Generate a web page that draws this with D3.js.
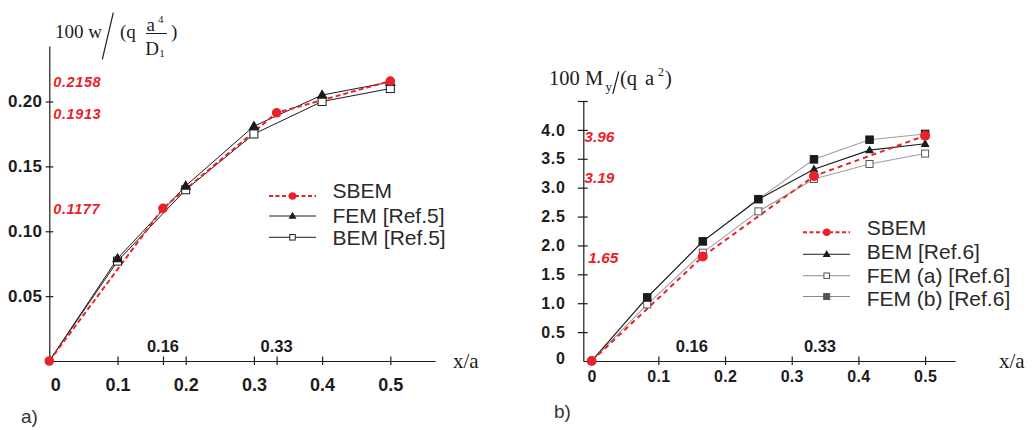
<!DOCTYPE html>
<html>
<head>
<meta charset="utf-8">
<script src="https://cdn.jsdelivr.net/npm/d3@7"></script>
<style>
  body { margin: 0; background: #fff; }
  svg { display: block; }
  .sans { font-family: "Liberation Sans", Arial, sans-serif; }
  .serif { font-family: "Liberation Serif", "Times New Roman", serif; }
</style>
</head>
<body>
<svg id="canvas" width="1032" height="430"></svg>
<script>
// ---- data, panel a) deflection ----
const xSbemA = [0, 1 / 6, 1 / 3, 0.5];
const sbemA = [0, 0.1177, 0.1913, 0.2158];
const sbemLabelsA = ["", "0.1177", "0.1913", "0.2158"];
const xRefA = [0, 0.1, 0.2, 0.3, 0.4, 0.5];
const femA = [0, 0.079, 0.135, 0.181, 0.205, 0.215];
const bemA = [0, 0.077, 0.132, 0.175, 0.200, 0.210];
const yTicksA = [0.05, 0.10, 0.15, 0.20];
const xTicksA = [0, 0.1, 0.2, 0.3, 0.4, 0.5];
const legendA = ["SBEM", "FEM [Ref.5]", "BEM [Ref.5]"];

// ---- data, panel b) moment ----
const xSbemB = [0, 1 / 6, 1 / 3, 0.5];
const sbemB = [0, 1.81, 3.20, 3.90];
const sbemLabelsB = ["", "1.65", "3.19", "3.96"];
const xRefB = [0, 1 / 12, 1 / 6, 1 / 4, 1 / 3, 5 / 12, 1 / 2];
const bemB = [0, 1.10, 2.07, 2.80, 3.32, 3.65, 3.76];
const femaB = [0, 0.98, 1.875, 2.59, 3.15, 3.41, 3.59];
const fembB = [0, 1.10, 2.07, 2.80, 3.49, 3.83, 3.93];
const yTicksB = [0, 0.5, 1.0, 1.5, 2.0, 2.5, 3.0, 3.5, 4.0, 4.5];
const xTicksB = [0, 0.1, 0.2, 0.3, 0.4, 0.5];
const legendB = ["SBEM", "BEM [Ref.6]", "FEM (a) [Ref.6]", "FEM (b) [Ref.6]"];

const markLabels = ["0.16", "0.33"];
const markX = [1 / 6, 1 / 3];

const RED = "#e8222b";
const INK = "#1c1c1c";

const svg = d3.select("#canvas");

// scales
const xA = d3.scaleLinear().domain([0, 0.5655]).range([49.3, 435]);
const yA = d3.scaleLinear().domain([0, 0.2428]).range([361, 46]);
const xB = d3.scaleLinear().domain([-0.0125, 0.5448]).range([583.3, 955]);
const yB = d3.scaleLinear().domain([0, 4.5]).range([361, 101]);

function zip(xs, ys) { return xs.map((x, i) => [x, ys[i]]); }

function triangle(g, cx, cy, s, fill) {
  const h = s * 0.87;
  g.append("path")
    .attr("d", `M${cx},${cy - h * 0.6}L${cx + s / 2},${cy + h * 0.4}L${cx - s / 2},${cy + h * 0.4}Z`)
    .attr("fill", fill);
}
function square(g, cx, cy, s, fill, stroke) {
  g.append("rect")
    .attr("x", cx - s / 2).attr("y", cy - s / 2)
    .attr("width", s).attr("height", s)
    .attr("fill", fill).attr("stroke", stroke).attr("stroke-width", 1);
}

function styleAxis(g) {
  g.selectAll(".domain").attr("stroke", INK).attr("stroke-width", 1.2);
  g.selectAll(".tick line").attr("stroke", INK).attr("stroke-width", 1.2);
  g.selectAll("text").attr("class", "sans").attr("font-weight", "bold").attr("fill", INK);
}

// ================= panel a =================
const gA = svg.append("g");

const axYA = gA.append("g").attr("transform", `translate(${xA(0)},0)`)
  .call(d3.axisLeft(yA).tickValues(yTicksA).tickSize(3.6).tickSizeOuter(0)
    .tickPadding(3.5).tickFormat(d3.format(".2f")));
axYA.selectAll(".tick line").attr("x1", 4);
axYA.selectAll("text").attr("font-size", 17).attr("letter-spacing", "0.3px");
styleAxis(axYA);

const axXA = gA.append("g").attr("transform", `translate(0,${yA(0)})`)
  .call(d3.axisBottom(xA).tickValues(xTicksA.concat(markX)).tickSize(4).tickSizeOuter(0)
    .tickFormat(d => xTicksA.includes(d) ? (d === 0 ? "0" : d3.format(".1f")(d)) : ""));
axXA.selectAll(".tick line").attr("y1", -4.5);
axXA.selectAll("text").attr("y", 24).attr("dy", "0.35em").attr("font-size", 18);
axXA.selectAll(".tick").filter(d => d === 0).select("text").attr("x", 6);
styleAxis(axXA);

gA.selectAll(".mark").data(markLabels).join("text")
  .attr("class", "sans").attr("x", (d, i) => xA(markX[i])).attr("y", 346.5).attr("dy", "0.35em")
  .attr("text-anchor", "middle").attr("font-size", 16.5).attr("font-weight", "bold")
  .attr("fill", INK).text(d => d);

const lineA = d3.line().x(d => xA(d[0])).y(d => yA(d[1]));

gA.append("path").datum(zip(xRefA, bemA)).attr("d", lineA)
  .attr("fill", "none").attr("stroke", INK).attr("stroke-width", 1);
gA.append("path").datum(zip(xRefA, femA)).attr("d", lineA)
  .attr("fill", "none").attr("stroke", INK).attr("stroke-width", 1);
gA.append("path").datum(zip(xSbemA, sbemA)).attr("d", lineA)
  .attr("fill", "none").attr("stroke", RED).attr("stroke-width", 2).attr("stroke-dasharray", "5,3");

zip(xRefA, bemA).slice(1).forEach(d => square(gA, xA(d[0]), yA(d[1]), 8, "#fff", INK));
zip(xRefA, femA).slice(1).forEach(d => triangle(gA, xA(d[0]), yA(d[1]), 11, INK));
gA.selectAll(".sbemA").data(zip(xSbemA, sbemA)).join("circle")
  .attr("cx", d => xA(d[0])).attr("cy", d => yA(d[1])).attr("r", 4.8).attr("fill", RED);

// red value notes
gA.selectAll(".noteA").data(sbemLabelsA.filter(d => d)).join("text")
  .attr("class", "sans").attr("x", xA(0) + 4)
  .attr("y", d => yA(sbemA[sbemLabelsA.indexOf(d)]) + 1).attr("dy", "0.35em")
  .attr("font-size", 14.5).attr("font-weight", "bold").attr("font-style", "italic")
  .attr("letter-spacing", "0.6px").attr("fill", RED).text(d => d);

// title a
const tA = gA.append("g").attr("class", "serif").attr("fill", INK);
tA.append("text").attr("x", 55).attr("y", 38).attr("font-size", 19).text("100 w");
tA.append("line").attr("x1", 113.3).attr("y1", 12.7).attr("x2", 102.3).attr("y2", 59.3)
  .attr("stroke", INK).attr("stroke-width", 1.2);
tA.append("text").attr("x", 120).attr("y", 38).attr("font-size", 19).text("(q");
tA.append("text").attr("x", 146.5).attr("y", 30.5).attr("font-size", 19).text("a");
tA.append("text").attr("x", 158).attr("y", 22.5).attr("font-size", 11).text("4");
tA.append("line").attr("x1", 146).attr("y1", 33.5).attr("x2", 167).attr("y2", 33.5)
  .attr("stroke", INK).attr("stroke-width", 1);
tA.append("text").attr("x", 145.3).attr("y", 54.5).attr("font-size", 19).text("D");
tA.append("text").attr("x", 159.3).attr("y", 56.5).attr("font-size", 11).text("1");
tA.append("text").attr("x", 171).attr("y", 38).attr("font-size", 19).text(")");
gA.append("text").attr("class", "serif").attr("x", 453).attr("y", 368).attr("font-size", 21)
  .attr("fill", INK).text("x/a");
gA.append("text").attr("class", "sans").attr("x", 21).attr("y", 423).attr("font-size", 19)
  .attr("fill", "#333").text("a)");

// legend a
const legYA = [196, 216, 237.3];
const lgA = gA.append("g");
legendA.forEach((name, i) => {
  const y = legYA[i];
  const ln = lgA.append("line").attr("x1", 269).attr("x2", 316).attr("y1", y).attr("y2", y)
    .attr("stroke", i === 0 ? RED : INK).attr("stroke-width", i === 0 ? 2 : 1);
  if (i === 0) {
    ln.attr("stroke-dasharray", "4,2.5");
    lgA.append("circle").attr("cx", 292.5).attr("cy", y).attr("r", 3.8).attr("fill", RED);
  } else if (i === 1) {
    triangle(lgA, 292.5, y, 8, INK);
  } else {
    square(lgA, 292.5, y, 5.5, "#fff", INK);
  }
  lgA.append("text").attr("class", "sans").attr("x", 332.5).attr("y", y - (i === 0 ? 5 : 0))
    .attr("dy", "0.35em").attr("font-size", 21).attr("fill", "#2a2a2a").text(name);
});

// ================= panel b =================
const gB = svg.append("g");

const axYB = gB.append("g").attr("transform", `translate(${xB.range()[0]},0)`)
  .call(d3.axisLeft(yB).tickValues(yTicksB).tickSize(5.5).tickSizeOuter(0).tickPadding(12)
    .tickFormat(d => d === 4.5 ? "" : (d === 0 ? "0" : d3.format(".1f")(d))));
axYB.selectAll(".tick line").attr("x1", 4.4);
axYB.selectAll("text").attr("font-size", 16).attr("letter-spacing", "0.8px");
styleAxis(axYB);
axYB.selectAll(".tick").filter(d => d === 0).select("line").remove();
axYB.selectAll(".tick").filter(d => d === 0).select("text").attr("y", -3);

const axXB = gB.append("g").attr("transform", `translate(0,${yB(0)})`)
  .call(d3.axisBottom(xB).tickValues(xTicksB).tickSize(4).tickSizeOuter(0)
    .tickFormat(d => d === 0 ? "0" : d3.format(".1f")(d)));
axXB.selectAll(".tick line").attr("y1", -4.5);
axXB.selectAll(".tick").filter(d => d === 0).select("line").remove();
axXB.selectAll("text").attr("y", 15).attr("dy", "0.35em").attr("font-size", 16).attr("letter-spacing", "0.3px");
styleAxis(axXB);

gB.selectAll(".mark").data(markLabels).join("text")
  .attr("class", "sans").attr("x", (d, i) => xB(markX[i]) + (i === 0 ? -11 : 6)).attr("y", 346).attr("dy", "0.35em")
  .attr("text-anchor", "middle").attr("font-size", 16.5).attr("font-weight", "bold")
  .attr("fill", INK).text(d => d);

const lineB = d3.line().x(d => xB(d[0])).y(d => yB(d[1]));

gB.append("path").datum(zip(xRefB, femaB)).attr("d", lineB)
  .attr("fill", "none").attr("stroke", "#a0a0a0").attr("stroke-width", 1.1);
gB.append("path").datum(zip(xRefB, fembB)).attr("d", lineB)
  .attr("fill", "none").attr("stroke", "#a0a0a0").attr("stroke-width", 1.1);
gB.append("path").datum(zip(xRefB, bemB)).attr("d", lineB)
  .attr("fill", "none").attr("stroke", INK).attr("stroke-width", 1.1);
gB.append("path").datum(zip(xSbemB, sbemB)).attr("d", lineB)
  .attr("fill", "none").attr("stroke", RED).attr("stroke-width", 2).attr("stroke-dasharray", "5,4");

zip(xRefB, femaB).slice(1).forEach(d => square(gB, xB(d[0]), yB(d[1]), 7, "#fff", "#555"));
zip(xRefB, bemB).slice(1).forEach(d => triangle(gB, xB(d[0]), yB(d[1]), 9, INK));
zip(xRefB, fembB).slice(1).forEach(d => square(gB, xB(d[0]), yB(d[1]), 7.5, "#1a1a1a", "#1a1a1a"));
gB.selectAll(".sbemB").data(zip(xSbemB, sbemB)).join("circle")
  .attr("cx", d => xB(d[0])).attr("cy", d => yB(d[1])).attr("r", 5).attr("fill", RED);

gB.selectAll(".noteB").data(sbemLabelsB.filter(d => d)).join("text")
  .attr("class", "sans").attr("x", (d, i) => xB.range()[0] + (i === 0 ? 5 : 1))
  .attr("y", d => yB(sbemB[sbemLabelsB.indexOf(d)]) + 1).attr("dy", "0.35em")
  .attr("font-size", 15.5).attr("font-weight", "bold").attr("font-style", "italic")
  .attr("fill", RED).text(d => d);

// title b
const tB = gB.append("g").attr("class", "serif").attr("fill", INK);
tB.append("text").attr("x", 549).attr("y", 85).attr("font-size", 20.5).text("100 M");
tB.append("text").attr("x", 605.5).attr("y", 91).attr("font-size", 13).text("y");
tB.append("line").attr("x1", 618.7).attr("y1", 71.5).attr("x2", 612.8).attr("y2", 94)
  .attr("stroke", INK).attr("stroke-width", 1.2);
tB.append("text").attr("x", 620).attr("y", 85).attr("font-size", 20.5).text("(q");
tB.append("text").attr("x", 645).attr("y", 85).attr("font-size", 20.5).text("a");
tB.append("text").attr("x", 658).attr("y", 76).attr("font-size", 12).text("2");
tB.append("text").attr("x", 665).attr("y", 85).attr("font-size", 20.5).text(")");
gB.append("text").attr("class", "serif").attr("x", 999).attr("y", 368).attr("font-size", 21)
  .attr("fill", INK).text("x/a");
gB.append("text").attr("class", "sans").attr("x", 554).attr("y", 418).attr("font-size", 19)
  .attr("fill", "#333").text("b)");

// legend b
const legYB = [232.3, 254.3, 275.7, 296.5];
const lgB = gB.append("g");
legendB.forEach((name, i) => {
  const y = legYB[i];
  const ln = lgB.append("line").attr("x1", 803).attr("x2", 850).attr("y1", y).attr("y2", y)
    .attr("stroke", i === 0 ? RED : (i === 1 ? INK : "#888")).attr("stroke-width", i === 0 ? 2 : 1.1);
  if (i === 0) {
    ln.attr("stroke-dasharray", "4,2.5");
    lgB.append("circle").attr("cx", 826.7).attr("cy", y).attr("r", 3.8).attr("fill", RED);
  } else if (i === 1) {
    triangle(lgB, 826.7, y, 8, INK);
  } else if (i === 2) {
    square(lgB, 826.7, y, 5.5, "#fff", "#555");
  } else {
    square(lgB, 826.7, y, 6, "#555", "#555");
  }
  lgB.append("text").attr("class", "sans").attr("x", 866.7).attr("y", y - (i === 0 ? 5 : (i === 1 ? 2.5 : 0)) + (i === 3 ? 2 : 0))
    .attr("dy", "0.35em").attr("font-size", 21).attr("fill", "#2a2a2a").text(name);
});
</script>
</body>
</html>
